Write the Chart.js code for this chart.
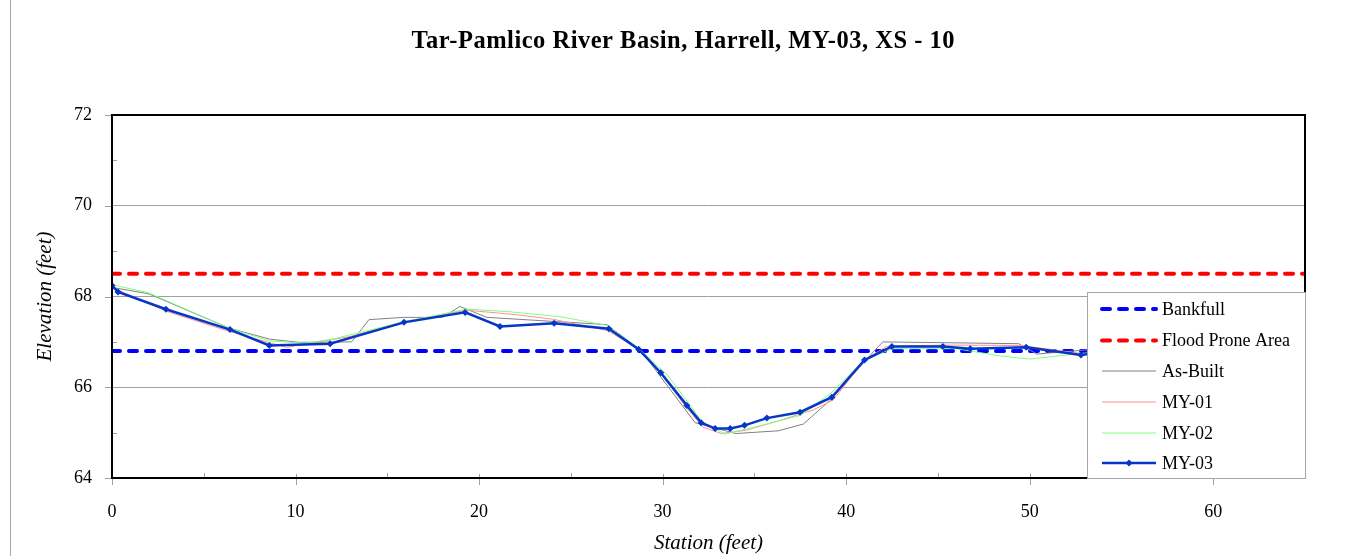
<!DOCTYPE html>
<html>
<head>
<meta charset="utf-8">
<script src="https://cdn.jsdelivr.net/npm/chart.js@4.4.0/dist/chart.umd.min.js"></script>
<style>
  html, body { margin: 0; padding: 0; background: #ffffff; }
  #wrap { position: relative; width: 1356px; height: 556px; }
</style>
</head>
<body>
<div id="wrap"><canvas id="c" width="1356" height="556"></canvas></div>
<script>
// ---- Data ----
const chartTitle = "Tar-Pamlico River Basin, Harrell, MY-03, XS - 10";
const xAxisTitle = "Station (feet)";
const yAxisTitle = "Elevation (feet)";
const xTickValues = [0, 10, 20, 30, 40, 50, 60];
const yTickValues = [64, 66, 68, 70, 72];

const bankfullX = [0, 65];
const bankfullY = [66.8, 66.8];
const floodX = [0, 65];
const floodY = [68.5, 68.5];

const asBuiltX = [0, 2.0, 6.4, 8.6, 10.2, 13.06, 14.0, 15.9, 18.0, 18.96, 20.42, 26.96, 28.8, 31.77, 34.0, 36.3, 37.67, 39.2, 41.5, 42.0, 49.4, 50.4, 50.9, 53.0, 54.5];
const asBuiltY = [68.2, 68.06, 67.3, 67.06, 66.99, 67.0, 67.49, 67.54, 67.54, 67.78, 67.54, 67.38, 66.82, 65.22, 64.98, 65.04, 65.19, 65.74, 66.79, 67.0, 66.96, 66.73, 66.75, 66.82, 66.82];

const my01X = [0, 3, 6.4, 9.5, 13, 16, 19.3, 22, 24, 27, 28.7, 30, 31.4, 32.2, 33.2, 34.5, 36, 38.2, 39.3, 41, 42.2, 45.3, 49.5, 52.9, 54.5];
const my01Y = [68.2, 67.67, 67.23, 66.88, 67.12, 67.45, 67.7, 67.6, 67.5, 67.25, 66.84, 66.25, 65.5, 65.12, 64.98, 65.05, 65.22, 65.5, 65.72, 66.6, 66.9, 66.93, 66.92, 66.74, 66.8];

const my02X = [0, 2, 6.4, 8.6, 10.5, 12, 16, 19.3, 21.5, 24.5, 27, 28.7, 30.3, 32.2, 33.4, 35, 37.5, 39.2, 41, 42.5, 46, 48.4, 50, 52.9, 54.5];
const my02Y = [68.26, 68.08, 67.3, 67.02, 66.97, 67.06, 67.45, 67.72, 67.67, 67.55, 67.36, 66.86, 66.25, 65.22, 64.97, 65.12, 65.38, 65.88, 66.6, 66.85, 66.85, 66.69, 66.62, 66.75, 66.78];

const my03X = [0, 0.33, 2.94, 6.43, 8.57, 11.88, 15.91, 19.24, 21.14, 24.09, 27.07, 28.69, 29.9, 31.32, 32.1, 32.86, 33.68, 34.46, 35.68, 37.49, 39.22, 41.0, 42.49, 45.27, 46.76, 49.81, 52.79, 54.5];
const my03Y = [68.24, 68.1, 67.72, 67.27, 66.92, 66.96, 67.43, 67.65, 67.34, 67.41, 67.29, 66.84, 66.32, 65.6, 65.22, 65.09, 65.09, 65.16, 65.32, 65.45, 65.78, 66.6, 66.9, 66.9, 66.85, 66.88, 66.71, 66.8];

const pts = (xs, ys) => xs.map((x, i) => ({ x: x, y: ys[i] }));

const SERIF = "'Liberation Serif', 'Times New Roman', serif";

const series = [
  { label: 'Bankfull', data: pts(bankfullX, bankfullY), color: '#0000ff', width: 4, dash: [8, 9], marker: false, order: 5 },
  { label: 'Flood Prone Area', data: pts(floodX, floodY), color: '#ff0000', width: 4, dash: [8, 9], marker: false, order: 4 },
  { label: 'As-Built', data: pts(asBuiltX, asBuiltY), color: '#808080', width: 1, dash: [], marker: false, order: 3 },
  { label: 'MY-01', data: pts(my01X, my01Y), color: '#ff9090', width: 1, dash: [], marker: false, order: 2 },
  { label: 'MY-02', data: pts(my02X, my02Y), color: '#80ff80', width: 1, dash: [], marker: false, order: 1 },
  { label: 'MY-03', data: pts(my03X, my03Y), color: '#0536c8', width: 2.5, dash: [], marker: true, order: 0 }
];

function fitText(ctx, text, cx, cy, targetWidth) {
  const w = ctx.measureText(text).width;
  const n = text.length - 1;
  const sp = n > 0 ? Math.max(0, (targetWidth - w) / n) : 0;
  ctx.letterSpacing = sp.toFixed(2) + 'px';
  const w2 = ctx.measureText(text).width;
  ctx.textAlign = 'left';
  ctx.fillText(text, cx - w2 / 2 + sp / 2, cy);
  ctx.letterSpacing = '0px';
}

const decorPlugin = {
  id: 'decor',
  beforeDraw(chart) {
    const ctx = chart.ctx;
    ctx.save();
    ctx.strokeStyle = '#a6a6a6';
    ctx.lineWidth = 1;
    ctx.beginPath();
    ctx.moveTo(10.5, 0);
    ctx.lineTo(10.5, 556);
    ctx.stroke();
    // title
    ctx.fillStyle = '#000000';
    ctx.font = "bold 24.5px " + SERIF;
    ctx.textBaseline = 'middle';
    fitText(ctx, chartTitle, 683, 42, 543);
    ctx.restore();
  },
  afterDatasetsDraw(chart) {
    const ctx = chart.ctx;
    const a = chart.chartArea;
    const xs = chart.scales.x, ys = chart.scales.y;
    ctx.save();
    // tick marks
    ctx.strokeStyle = '#a0a0a0';
    ctx.lineWidth = 1;
    ctx.beginPath();
    for (let v = 64; v <= 72; v += 1) {
      const py = Math.round(ys.getPixelForValue(v)) + 0.5;
      if (v % 2 === 0) { ctx.moveTo(a.left - 7, py); ctx.lineTo(a.left, py); }
      else { ctx.moveTo(a.left, py); ctx.lineTo(a.left + 5, py); }
    }
    for (let v = 0; v <= 60; v += 5) {
      const px = Math.round(xs.getPixelForValue(v)) + 0.5;
      if (v % 10 === 0) { ctx.moveTo(px, a.bottom - 4); ctx.lineTo(px, a.bottom + 7); }
      else { ctx.moveTo(px, a.bottom - 5); ctx.lineTo(px, a.bottom); }
    }
    ctx.stroke();
    // plot frame
    ctx.strokeStyle = '#000000';
    ctx.lineWidth = 2;
    ctx.strokeRect(a.left, a.top, a.right - a.left, a.bottom - a.top);

    // legend box drawn over plot
    const lx = 1087, ly = 292, lw = 218, lh = 186;
    ctx.fillStyle = '#ffffff';
    ctx.fillRect(lx, ly, lw, lh);
    ctx.strokeStyle = '#a6a6a6';
    ctx.lineWidth = 1;
    ctx.strokeRect(lx + 0.5, ly + 0.5, lw, lh);
    const rows = [309, 340.5, 371, 402, 433, 463];
    ctx.font = "18px " + SERIF;
    ctx.textBaseline = 'middle';
    ctx.textAlign = 'left';
    series.forEach((s, i) => {
      const yy = rows[i];
      ctx.save();
      ctx.strokeStyle = s.color;
      ctx.lineWidth = s.width;
      ctx.setLineDash(s.dash);
      ctx.lineCap = s.dash.length ? 'round' : 'butt';
      ctx.beginPath();
      ctx.moveTo(1102, yy);
      ctx.lineTo(1156, yy);
      ctx.stroke();
      ctx.restore();
      if (s.marker) {
        ctx.save();
        ctx.fillStyle = s.color;
        ctx.beginPath();
        ctx.moveTo(1129, yy - 3.5); ctx.lineTo(1132.5, yy); ctx.lineTo(1129, yy + 3.5); ctx.lineTo(1125.5, yy);
        ctx.closePath(); ctx.fill();
        ctx.restore();
      }
      ctx.fillStyle = '#000000';
      ctx.fillText(s.label, 1162, yy + 1);
    });
    ctx.restore();
  }
};

new Chart(document.getElementById('c'), {
  type: 'line',
  data: {
    datasets: series.map(s => ({
      label: s.label,
      data: s.data,
      borderColor: s.color,
      backgroundColor: s.color,
      borderWidth: s.width,
      borderDash: s.dash,
      borderCapStyle: s.dash.length ? 'round' : 'butt',
      pointRadius: s.marker ? 3.5 : 0,
      pointStyle: 'rectRot',
      pointBackgroundColor: s.color,
      pointBorderColor: s.color,
      pointBorderWidth: 0,
      tension: 0,
      fill: false,
      order: s.order
    }))
  },
  options: {
    responsive: false,
    animation: false,
    events: [],
    layout: { padding: { left: 0, right: 51, top: 115, bottom: 0 } },
    plugins: {
      legend: { display: false },
      tooltip: { enabled: false },
      title: { display: false }
    },
    scales: {
      x: {
        type: 'linear',
        min: 0,
        max: 65,
        afterBuildTicks: (scale) => { scale.ticks = xTickValues.map(v => ({ value: v })); },
        afterFit: (scale) => { scale.height = 78; },
        grid: { display: false, drawTicks: false },
        border: { display: false },
        ticks: { color: '#000000', font: { family: SERIF, size: 18 }, padding: 23, maxRotation: 0 },
        title: {
          display: true,
          text: xAxisTitle,
          color: '#000000',
          font: { family: SERIF, size: 21, style: 'italic', lineHeight: 1.2 },
          padding: { top: 8.5, bottom: 0 }
        }
      },
      y: {
        type: 'linear',
        min: 64,
        max: 72,
        afterBuildTicks: (scale) => { scale.ticks = yTickValues.map(v => ({ value: v })); },
        afterFit: (scale) => { scale.width = 112; },
        grid: {
          drawTicks: false,
          color: (ctx) => (ctx.tick && (ctx.tick.value === 64 || ctx.tick.value === 72)) ? 'rgba(0,0,0,0)' : '#a0a0a0',
          lineWidth: 1
        },
        border: { display: false },
        ticks: { color: '#000000', font: { family: SERIF, size: 18 }, padding: 20 },
        title: {
          display: true,
          text: yAxisTitle,
          color: '#000000',
          font: { family: SERIF, size: 21, style: 'italic', lineHeight: 1.2 },
          padding: { top: 32.5, bottom: 0 }
        }
      }
    }
  },
  plugins: [decorPlugin]
});
</script>
</body>
</html>
